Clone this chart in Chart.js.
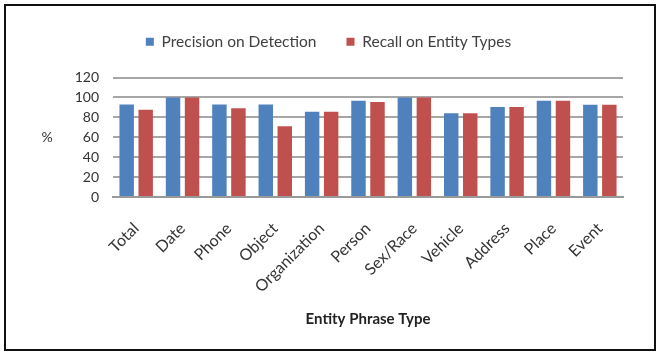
<!DOCTYPE html>
<html>
<head>
<meta charset="utf-8">
<script src="https://cdn.jsdelivr.net/npm/chart.js@4"></script>
<style>
  body { margin: 0; background: #fff; }
  #wrap { position: relative; width: 657px; height: 352px; }
  #frame { position: absolute; left: 4px; top: 4px; width: 648px; height: 343px; border: 2px solid #111; pointer-events: none; }
</style>
</head>
<body>
<div id="wrap">
  <canvas id="myChart" width="657" height="352"></canvas>
  <div id="frame"></div>
</div>
<script>
var categories = ["Total", "Date", "Phone", "Object", "Organization", "Person", "Sex/Race", "Vehicle", "Address", "Place", "Event"];
var precision = [93, 100, 93, 93, 85.5, 96.7, 100, 84, 90.4, 96.7, 92.7];
var recall = [87.5, 100, 89, 71, 85.5, 95.4, 100, 84, 90.4, 96.7, 92.7];
var yTicks = [0, 20, 40, 60, 80, 100, 120];

var fontName = "Lato, 'Liberation Sans', sans-serif";

// the "%" label sits level, not rotated like a normal axis title
var percentLabel = {
  id: 'percentLabel',
  afterDraw: function(chart) {
    var c = chart.ctx;
    c.save();
    c.font = "14px " + fontName;
    c.fillStyle = "#333";
    c.textAlign = "center";
    c.textBaseline = "middle";
    c.fillText("%", 47, 137);
    c.restore();
  }
};

// leave some room under the legend
var legendGap = {
  id: 'legendGap',
  beforeInit: function(chart) {
    var origFit = chart.legend.fit;
    chart.legend.fit = function() {
      origFit.bind(chart.legend)();
      this.height += 18;
    };
  }
};

var ctx = document.getElementById('myChart').getContext('2d');

var newDta = {
  labels: categories,
  datasets: [{
    label: "Precision on Detection",
    data: precision,
    backgroundColor: "#4F81BD",
    borderWidth: 0
  }, {
    label: "Recall on Entity Types",
    data: recall,
    backgroundColor: "#C0504D",
    borderWidth: 0
  }]
};

var Chartoptions = {
  responsive: false,
  animation: false,
  layout: { padding: { top: 4, right: 0, bottom: 20, left: 0 } },
  datasets: { bar: { categoryPercentage: 0.82, barPercentage: 0.76 } },
  plugins: {
    tooltip: { enabled: false },
    legend: {
      labels: {
        boxWidth: 8,
        boxHeight: 8,
        padding: 30,
        color: "#404040",
        font: { family: fontName, size: 15.5 }
      }
    }
  },
  scales: {
    x: {
      grid: { display: false },
      border: { display: true, color: "#999", width: 2 },
      ticks: {
        minRotation: 45,
        maxRotation: 45,
        padding: 14,
        color: "#333",
        font: { family: fontName, size: 16 }
      },
      title: {
        display: true,
        text: "Entity Phrase Type",
        color: "#222",
        font: { family: fontName, size: 15, weight: "bold" }
      },
      afterFit: function(scale) { scale.height = 135; }
    },
    y: {
      min: 0,
      max: 120,
      afterBuildTicks: function(scale) {
        scale.ticks = yTicks.map(function(v) { return { value: v }; });
      },
      grid: { color: "#A6A6A6", lineWidth: 2, drawTicks: false },
      border: { display: false },
      ticks: {
        padding: 14,
        color: "#333",
        font: { family: fontName, size: 14 }
      },
      afterFit: function(scale) { scale.width = 113; }
    },
    // empty right-hand margin so the legend centres like the original
    yRight: {
      position: 'right',
      grid: { display: false },
      border: { display: false },
      ticks: { display: false },
      afterFit: function(scale) { scale.width = 34; }
    }
  }
};

var myChart = new Chart(ctx, {
  type: 'bar',
  data: newDta,
  options: Chartoptions,
  plugins: [percentLabel, legendGap]
});
</script>
</body>
</html>
